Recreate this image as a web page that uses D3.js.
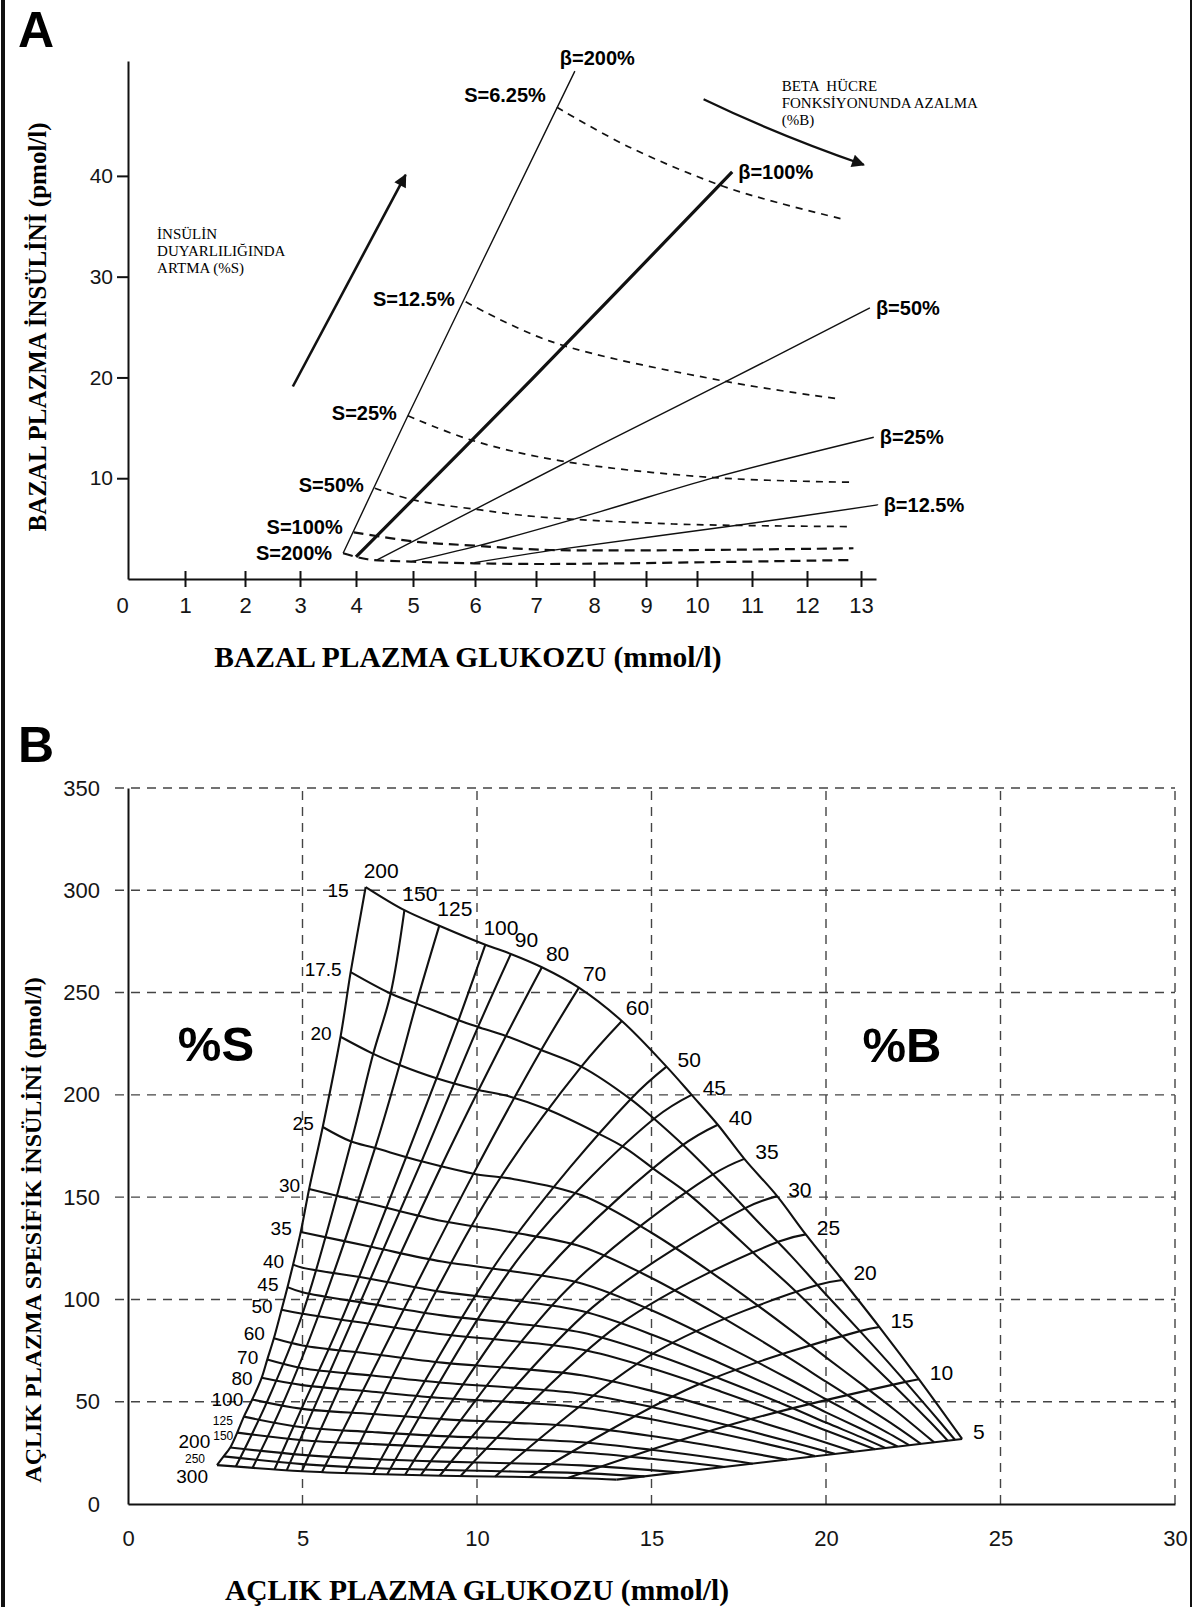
<!DOCTYPE html>
<html>
<head>
<meta charset="utf-8">
<script src="https://d3js.org/d3.v7.min.js"></script>
<style>
  body { margin: 0; background: white; }
  svg { display: block; }
  .sans { font-family: 'Liberation Sans', Arial, sans-serif; }
  .serif { font-family: 'Liberation Serif', 'Times New Roman', serif; }
</style>
</head>
<body>
<div id="chart"></div>
<script>
// ---------- panel A : bazal glukoz / insülin
const aXTicks = [0, 1, 2, 3, 4, 5, 6, 7, 8, 9, 10, 11, 12, 13]
const aYTicks = [10, 20, 30, 40]

const betaNames = ['β=200%', 'β=100%', 'β=50%', 'β=25%', 'β=12.5%']
const betaLines = [
  [[3.77, 2.55], [4.91, 16.2], [7.67, 50.4]],
  [[4.0, 2.2], [6.93, 19.8], [10.64, 40.4]],
  [[4.37, 1.89], [8.12, 13.3], [10.53, 19.6], [13.16, 26.9]],
  [[4.97, 1.72], [6.06, 3.31], [8.12, 6.69], [10.31, 10.06], [13.23, 14.07]],
  [[5.99, 1.62], [7.24, 2.81], [10.9, 5.46], [13.3, 7.35]]
]

const sensNames = ['S=6.25%', 'S=12.5%', 'S=25%', 'S=50%', 'S=100%', 'S=200%']
const sensCurves = [
  [[7.36, 46.8], [8.66, 42.9], [10.46, 39.0], [11.5, 37.3], [12.67, 35.7]],
  [[5.85, 27.5], [7.24, 23.6], [10.53, 19.6], [12.55, 17.9]],
  [[4.91, 16.2], [5.93, 13.8], [7.45, 11.7], [10.31, 10.06], [12.82, 9.6]],
  [[4.33, 9.0], [5.0, 7.85], [6.09, 6.85], [7.0, 6.19], [9.53, 5.46], [12.82, 5.2]],
  [[3.96, 4.63], [5.04, 3.71], [5.99, 3.31], [7.24, 2.88], [12.86, 3.05]],
  [[3.77, 2.55], [4.2, 1.96], [5.0, 1.72], [5.99, 1.56], [7.24, 1.49], [12.86, 1.89]]
]

const sensNote = ['İNSÜLİN', 'DUYARLILIĞINDA', 'ARTMA (%S)']
const betaNote = ['BETA  HÜCRE', 'FONKSİYONUNDA AZALMA', '(%B)']

// ---------- panel B : açlık glukoz / spesifik insülin nomogram
const bXTicks = [0, 5, 10, 15, 20, 25, 30]
const bYTicks = [0, 50, 100, 150, 200, 250, 300, 350]

// %S isolines, each runs from the %B=200 edge to the %B=5 edge
const sValues = [15, 17.5, 20, 25, 30, 35, 40, 45, 50, 60, 70, 80, 100, 125, 150, 200, 250, 300]
const sCurves = [
  [[6.81, 301.6], [7.92, 290.3], [8.92, 282.7], [10.24, 273.4], [10.97, 268.9], [11.86, 262.4], [12.92, 252.4], [14.15, 236.1], [15.43, 213.8], [16.15, 200], [16.9, 185.4], [17.66, 168.7], [18.6, 150.5], [19.42, 131.8], [20.47, 109.5], [21.53, 86.5], [22.66, 61], [23.9, 31.8]],
  [[6.38, 260], [7.54, 249.4], [8.26, 244.6], [9.47, 236.5], [10.03, 233.2], [10.83, 228.8], [11.84, 221.9], [12.99, 213.8], [14.4, 197.9], [15, 189.4], [16, 174], [17, 156.9], [18, 138.8], [19, 121.3], [20, 102.4], [21, 84], [22, 65.1], [23, 45.4], [23.7, 31.3]],
  [[6.09, 228.4], [7.0, 220.3], [7.78, 214.6], [8.84, 208.1], [10.05, 202.4], [10.93, 199.2], [12.04, 192.7], [13.44, 181.4], [14.25, 174], [15.15, 162.7], [16, 152.3], [17, 137.3], [18, 121.5], [19, 106.1], [20, 89.6], [21, 73.5], [22, 57], [23, 39.8], [23.49, 30.9]],
  [[5.58, 184.3], [6.38, 177.3], [7.06, 174.1], [8.41, 167.5], [10, 161.1], [11, 159], [13, 150.9], [15, 132.6], [17, 109.8], [19, 84.9], [20, 71.7], [21, 58.8], [22, 45.6], [23.1, 30.1]],
  [[5.19, 154], [7, 146.5], [9, 138.3], [11, 132.8], [13, 125.8], [15, 110.5], [17, 91.5], [19, 70.8], [20, 59.8], [21, 49], [22, 38], [22.72, 29.4]],
  [[4.95, 133], [7, 125.6], [9, 118.5], [11, 113.8], [13, 107.8], [15, 94.7], [17, 78.4], [19, 60.6], [20, 51.2], [21, 42], [22, 32.6], [22.38, 28.8]],
  [[4.73, 117], [5, 115.5], [7, 109.9], [9, 103.7], [11, 99.6], [13, 94.3], [15, 82.9], [17, 68.6], [19, 53.1], [20, 44.8], [21, 36.8], [22.05, 28.1]],
  [[4.57, 106], [5, 103.5], [7, 97.7], [9, 92.2], [11, 88.5], [13, 83.8], [15, 73.7], [17, 61], [19, 47.2], [20, 39.8], [21, 32.7], [21.7, 27.4]],
  [[4.4, 95], [5, 93], [7, 87.9], [9, 83], [11, 79.7], [13, 75.5], [15, 66.3], [17, 54.9], [19, 42.5], [20, 35.9], [21.4, 26.8]],
  [[4.18, 81], [5, 77.5], [7, 73.3], [9, 69.1], [11, 66.4], [13, 62.9], [15, 55.3], [17, 45.8], [19, 35.4], [20.8, 25.6]],
  [[3.99, 70.6], [5, 66.4], [7, 62.8], [9, 59.3], [11, 56.9], [13, 53.9], [15, 47.4], [17, 39.2], [19, 30.3], [20.25, 24.5]],
  [[3.83, 61.7], [5, 58.1], [7, 54.9], [9, 51.8], [11, 49.8], [13, 47.2], [15, 41.4], [17, 34.3], [19, 26.5], [19.68, 23.4]],
  [[3.56, 51.1], [5, 46.5], [7, 44], [9, 41.5], [11, 39.8], [13, 37.7], [15, 33.2], [17, 27.5], [18.88, 21.7]],
  [[3.32, 42.7], [5, 37.5], [7, 35.2], [9, 33.2], [11, 31.9], [13, 30.2], [15, 26.5], [17, 22], [17.9, 19.7]],
  [[3.13, 34.9], [5, 31.2], [7, 29.3], [9, 27.7], [11, 26.6], [13, 25.2], [15, 22.1], [17.1, 18.1]],
  [[2.93, 27.6], [5, 24], [7, 22], [9, 20.7], [11, 19.9], [13, 18.9], [15.8, 15.5]],
  [[2.74, 23.3], [5, 19.5], [7, 17.6], [9, 16.6], [11, 15.9], [13, 15.1], [14.8, 13.5]],
  [[2.55, 19], [5, 16], [7, 14.7], [9, 13.8], [11, 13.3], [13, 12.6], [14, 11.9]]
]

// %B isolines, each runs from the %S=15 edge down to the %S=300 edge
const bValues = [200, 150, 125, 100, 90, 80, 70, 60, 50, 45, 40, 35, 30, 25, 20, 15, 10, 5]
const bCurves = [
  [[6.81, 301.6], [6.38, 260], [6.09, 228.4], [5.58, 184.3], [5.19, 154], [4.95, 133], [4.73, 117], [4.57, 106], [4.4, 95], [4.18, 81], [3.99, 70.6], [3.83, 61.7], [3.56, 51.1], [3.32, 42.7], [3.13, 34.9], [2.93, 27.6], [2.74, 23.3], [2.55, 19]],
  [[7.92, 290.3], [7.52, 249.1], [7.03, 220.3], [6.4, 177.3], [5.0, 93], [3.98, 49.8], [3.09, 18.3]],
  [[8.92, 282.7], [8.26, 244.6], [7.78, 214.6], [7.08, 174.1], [5.45, 91.9], [4.42, 48.3], [3.57, 17.75]],
  [[10.24, 273.4], [9.47, 236.5], [8.84, 208.1], [7.97, 169.6], [6.12, 90.1], [4.97, 46.5], [4.2, 17]],
  [[10.97, 268.9], [10.03, 233.2], [8.41, 167.5], [4.55, 16.55]],
  [[11.86, 262.4], [10.83, 228.8], [8.98, 165.2], [4.98, 16]],
  [[12.92, 252.4], [11.84, 221.9], [9.9, 161.5], [5.56, 15.6]],
  [[14.15, 236.1], [12.99, 213.8], [10.68, 159.7], [8.6, 96.7], [6.23, 15.2]],
  [[15.43, 213.8], [14.4, 197.9], [10.71, 121.6], [7.02, 14.7]],
  [[16.15, 200], [15.1, 188.7], [11.27, 121.8], [7.43, 14.5]],
  [[16.9, 185.4], [15.85, 174.9], [11.9, 112.6], [7.94, 14.3]],
  [[17.66, 168.7], [16.76, 161.1], [12.58, 104.9], [8.39, 14.1]],
  [[18.6, 150.5], [17.67, 144.5], [13.3, 96], [8.93, 13.8]],
  [[19.42, 131.8], [18.65, 128.3], [14.09, 87.9], [9.53, 13.7]],
  [[20.47, 109.5], [19.75, 107], [15.14, 74.5], [10.52, 13.4]],
  [[21.53, 86.5], [20.97, 84.5], [16.24, 57.7], [11.5, 13.1]],
  [[22.66, 61], [22.28, 59.7], [17.44, 39.6], [12.6, 12.7]],
  [[23.9, 31.8], [14, 11.9]]
]

const W = 1192
const H = 1607

const svg = d3.select('#chart')
  .append('svg')
  .attr('width', W)
  .attr('height', H)
  .style('background', 'white')

svg.append('defs')
  .append('marker')
  .attr('id', 'head')
  .attr('viewBox', '0 0 10 10')
  .attr('refX', 9)
  .attr('refY', 5)
  .attr('markerUnits', 'userSpaceOnUse')
  .attr('markerWidth', 16)
  .attr('markerHeight', 13)
  .attr('orient', 'auto')
  .append('path')
  .attr('d', 'M0,0 L10,5 L0,10 Z')
  .attr('fill', '#111')

// figure frame
svg.append('line').attr('x1', 3).attr('x2', 3).attr('y1', 0).attr('y2', H)
  .attr('stroke', '#111').attr('stroke-width', 4)
svg.append('line').attr('x1', W - 1).attr('x2', W - 1).attr('y1', 0).attr('y2', H)
  .attr('stroke', '#111').attr('stroke-width', 2)

makePanelA(svg)
makePanelB(svg)

function styleAxis (ax, size) {
  ax.attr('font-family', "'Liberation Sans', Arial, sans-serif")
    .attr('font-size', size)
  ax.selectAll('text').attr('fill', '#151515')
  ax.select('.domain').attr('stroke', '#111').attr('stroke-width', 2)
  ax.selectAll('.tick line').attr('stroke', '#111').attr('stroke-width', 2)
}

function makePanelA (svg) {
  const g = svg.append('g').attr('class', 'panelA')
  // the scanned axis is hand drawn, its ticks are not evenly spaced
  const x = d3.scaleLinear()
    .domain([0, 1, 2, 3, 4, 5, 6, 7, 8, 9, 10, 11, 12, 13, 13.27])
    .range([128, 185, 245, 300, 356, 413, 475, 536, 594, 646, 697, 752, 807, 861, 876])
  const y = d3.scaleLinear().domain([0, 51.4]).range([579, 61])

  g.append('text')
    .attr('class', 'sans')
    .attr('x', 18).attr('y', 47)
    .style('font-size', '50px').style('font-weight', 'bold')
    .text('A')

  const yAxis = g.append('g')
    .attr('transform', `translate(${x(0)},0)`)
    .call(d3.axisLeft(y).tickValues(aYTicks).tickSize(11).tickSizeOuter(0).tickPadding(4))
  styleAxis(yAxis, 21)

  const xAxis = g.append('g')
    .attr('transform', `translate(0,${y(0)})`)
    .call(d3.axisBottom(x).tickValues(aXTicks).tickSize(8).tickSizeOuter(0).tickPadding(0))
  styleAxis(xAxis, 22)
  xAxis.selectAll('.tick line').attr('y1', -8).attr('y2', 8)
  xAxis.selectAll('.tick').filter(d => d === 0).select('line').remove()
  xAxis.selectAll('.tick text').attr('y', 18).attr('dx', d => d === 0 ? -6 : 0)

  g.append('text')
    .attr('class', 'serif')
    .attr('transform', 'translate(37,327) rotate(-90)')
    .attr('text-anchor', 'middle')
    .attr('dominant-baseline', 'central')
    .style('font-size', '25px').style('font-weight', 'bold')
    .text('BAZAL PLAZMA İNSÜLİNİ (pmol/l)')

  g.append('text')
    .attr('class', 'serif')
    .attr('x', 468).attr('y', 657)
    .attr('text-anchor', 'middle')
    .attr('dominant-baseline', 'central')
    .style('font-size', '29.5px').style('font-weight', 'bold')
    .text('BAZAL PLAZMA GLUKOZU (mmol/l)')

  const line = d3.line()
    .x(d => x(d[0]))
    .y(d => y(d[1]))
    .curve(d3.curveCatmullRom.alpha(0.5))

  g.selectAll('.betaLine')
    .data(betaLines)
    .enter()
    .append('path')
    .attr('class', 'betaLine')
    .attr('d', line)
    .attr('fill', 'none')
    .attr('stroke', '#111')
    .attr('stroke-width', (d, i) => betaNames[i] === 'β=100%' ? 3.2 : 1.4)

  g.selectAll('.sensLine')
    .data(sensCurves)
    .enter()
    .append('path')
    .attr('class', 'sensLine')
    .attr('d', line)
    .attr('fill', 'none')
    .attr('stroke', '#111')
    .attr('stroke-width', (d, i) => i > 3 ? 2.2 : 1.7)
    .attr('stroke-dasharray', (d, i) => i > 3 ? '10,6' : '7,6')

  // labels at the line ends
  g.selectAll('.betaText')
    .data(betaLines)
    .enter()
    .append('text')
    .attr('class', 'betaText sans')
    .attr('x', d => {
      const p = d[d.length - 1]
      return p[1] > 45 ? x(p[0]) - 15 : x(p[0]) + 6
    })
    .attr('y', d => {
      const p = d[d.length - 1]
      return p[1] > 45 ? y(p[1]) - 13 : y(p[1])
    })
    .attr('dominant-baseline', 'central')
    .style('font-size', '20px').style('font-weight', 'bold')
    .text((d, i) => betaNames[i])

  g.selectAll('.sensText')
    .data(sensCurves)
    .enter()
    .append('text')
    .attr('class', 'sensText sans')
    .attr('x', d => x(d[0][0]) - 11)
    .attr('y', (d, i) => y(d[0][1]) - (i === 0 ? 12 : i === 4 ? 5 : i === 5 ? 0 : 3))
    .attr('text-anchor', 'end')
    .attr('dominant-baseline', 'central')
    .style('font-size', '20px').style('font-weight', 'bold')
    .text((d, i) => sensNames[i])

  // annotations
  const note = (lines, gx, gy) => {
    g.append('g')
      .selectAll('text')
      .data(lines)
      .enter()
      .append('text')
      .attr('class', 'serif')
      .attr('x', x(gx))
      .attr('y', (d, i) => y(gy) + i * 17)
      .attr('dominant-baseline', 'central')
      .style('font-size', '15px')
      .style('white-space', 'pre')
      .text(d => d)
  }
  note(sensNote, 0.51, 34.2)
  note(betaNote, 11.54, 48.9)

  g.append('line')
    .attr('x1', x(2.87)).attr('y1', y(19.1))
    .attr('x2', x(4.87)).attr('y2', y(40.1))
    .attr('stroke', '#111').attr('stroke-width', 2.6)
    .attr('marker-end', 'url(#head)')

  const p0 = [x(10.12), y(47.6)]
  const pc = [x(11.45), y(44.1)]
  const p1 = [x(13.05), y(41.1)]
  g.append('path')
    .attr('d', `M${p0} Q${pc} ${p1}`)
    .attr('fill', 'none')
    .attr('stroke', '#111').attr('stroke-width', 2.2)
    .attr('marker-end', 'url(#head)')
}

function makePanelB (svg) {
  const g = svg.append('g').attr('class', 'panelB')
  const x = d3.scaleLinear().domain([0, 30]).range([128, 1175])
  const y = d3.scaleLinear().domain([0, 350]).range([1504, 788])

  g.append('text')
    .attr('class', 'sans')
    .attr('x', 18).attr('y', 762)
    .style('font-size', '50px').style('font-weight', 'bold')
    .text('B')

  // dashed grid
  g.append('g')
    .selectAll('line')
    .data(bYTicks.filter(d => d > 0))
    .enter()
    .append('line')
    .attr('x1', x(0) - 13).attr('x2', x(30))
    .attr('y1', d => y(d)).attr('y2', d => y(d))
    .attr('stroke', '#444').attr('stroke-width', 1.4)
    .attr('stroke-dasharray', '9,7')

  g.append('g')
    .selectAll('line')
    .data(bXTicks.filter(d => d > 0))
    .enter()
    .append('line')
    .attr('x1', d => x(d)).attr('x2', d => x(d))
    .attr('y1', y(0)).attr('y2', y(350))
    .attr('stroke', '#444').attr('stroke-width', 1.4)
    .attr('stroke-dasharray', '9,7')

  const yAxis = g.append('g')
    .attr('transform', `translate(${x(0)},0)`)
    .call(d3.axisLeft(y).tickValues(bYTicks).tickSize(0).tickSizeOuter(0).tickPadding(28))
  styleAxis(yAxis, 22)

  const xAxis = g.append('g')
    .attr('transform', `translate(0,${y(0)})`)
    .call(d3.axisBottom(x).tickValues(bXTicks).tickSize(0).tickSizeOuter(0).tickPadding(26))
  styleAxis(xAxis, 22)

  g.append('text')
    .attr('class', 'serif')
    .attr('transform', 'translate(33,1230) rotate(-90)')
    .attr('text-anchor', 'middle')
    .attr('dominant-baseline', 'central')
    .style('font-size', '24px').style('font-weight', 'bold')
    .text('AÇLIK PLAZMA SPESİFİK İNSÜLİNİ (pmol/l)')

  g.append('text')
    .attr('class', 'serif')
    .attr('x', 477).attr('y', 1590)
    .attr('text-anchor', 'middle')
    .attr('dominant-baseline', 'central')
    .style('font-size', '29.5px').style('font-weight', 'bold')
    .text('AÇLIK PLAZMA GLUKOZU (mmol/l)')

  const line = d3.line()
    .x(d => x(d[0]))
    .y(d => y(d[1]))
    .curve(d3.curveCatmullRom.alpha(0.5))

  const mesh = g.append('g')
    .attr('fill', 'none')
    .attr('stroke', '#111')
    .attr('stroke-width', 2.1)
    .attr('stroke-linejoin', 'round')

  mesh.selectAll('.sLine')
    .data(sCurves)
    .enter()
    .append('path')
    .attr('class', 'sLine')
    .attr('d', line)

  mesh.selectAll('.bLine')
    .data(bCurves)
    .enter()
    .append('path')
    .attr('class', 'bLine')
    .attr('d', line)

  // %S labels sit left of the %B=200 edge; the crowded bottom ones are
  // set smaller and spread a little so they stay readable
  const small = [125, 150, 250]
  const sNudge = {
    15: [-8, 6], 60: [0, -2], 70: [0, 1], 80: [0, 4], 100: [0, 3],
    125: [-2, 7.5], 150: [5, 6.5], 200: [-11, -3.5], 250: [-9.6, 5.2], 300: [0, 14]
  }
  const nudge = v => sNudge[v] || [0, 0]

  g.selectAll('.sText')
    .data(sCurves)
    .enter()
    .append('text')
    .attr('class', 'sText sans')
    .attr('x', (d, i) => x(d[0][0]) - 9 + nudge(sValues[i])[0])
    .attr('y', (d, i) => y(d[0][1]) - 3 + nudge(sValues[i])[1])
    .attr('text-anchor', 'end')
    .attr('dominant-baseline', 'central')
    .style('font-size', (d, i) => small.includes(sValues[i]) ? '12px' : '19px')
    .text((d, i) => sValues[i])

  // %B labels sit above / right of the %S=15 edge
  const bOffset = b => b >= 100 ? [-2, -17] : b >= 60 ? [4, -14] : [11, -7]

  g.selectAll('.bText')
    .data(bCurves)
    .enter()
    .append('text')
    .attr('class', 'bText sans')
    .attr('x', (d, i) => x(d[0][0]) + bOffset(bValues[i])[0])
    .attr('y', (d, i) => y(d[0][1]) + bOffset(bValues[i])[1])
    .attr('dominant-baseline', 'central')
    .style('font-size', '21px')
    .text((d, i) => bValues[i])

  g.append('text')
    .attr('class', 'sans')
    .attr('x', 216).attr('y', 1044)
    .attr('text-anchor', 'middle')
    .attr('dominant-baseline', 'central')
    .style('font-size', '49px').style('font-weight', 'bold')
    .text('%S')

  g.append('text')
    .attr('class', 'sans')
    .attr('x', 902).attr('y', 1045)
    .attr('text-anchor', 'middle')
    .attr('dominant-baseline', 'central')
    .style('font-size', '49px').style('font-weight', 'bold')
    .text('%B')
}
</script>
</body>
</html>
